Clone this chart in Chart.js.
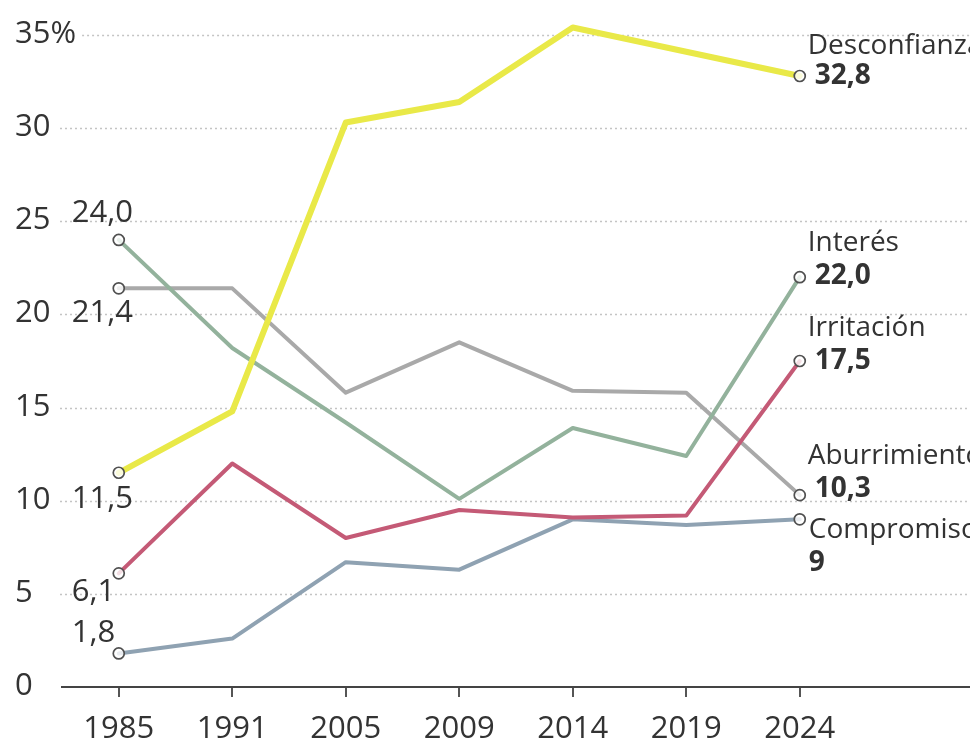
<!DOCTYPE html>
<html>
<head>
<meta charset="utf-8">
<script src="https://cdn.jsdelivr.net/npm/chart.js@4.4.1/dist/chart.umd.min.js"></script>
<style>
  html, body { margin: 0; padding: 0; background: #ffffff; }
  #wrap { width: 970px; height: 749px; position: relative; }
</style>
</head>
<body>
<div id="wrap"><canvas id="c" width="970" height="749"></canvas></div>
<script>
// ---- data ----
const years = ['1985', '1991', '2005', '2009', '2014', '2019', '2024'];
const seriesNames = ['Desconfianza', 'Interés', 'Irritación', 'Aburrimiento', 'Compromiso'];
const desconfianza = [11.5, 14.8, 30.3, 31.4, 35.4, 34.1, 32.8];
const interes      = [24.0, 18.2, 14.2, 10.1, 13.9, 12.4, 22.0];
const irritacion   = [6.1, 12.0, 8.0, 9.5, 9.1, 9.2, 17.5];
const aburrimiento = [21.4, 21.4, 15.8, 18.5, 15.9, 15.8, 10.3];
const compromiso   = [1.8, 2.6, 6.7, 6.3, 9.0, 8.7, 9];
const yTicks = [0, 5, 10, 15, 20, 25, 30, 35];
const lastDecimals = [1, 1, 1, 1, 0];

// ---- styles ----
const colors = ['#e9e948', '#93b29c', '#c45a76', '#a9a9a9', '#8fa2b2'];
const widths = [6, 4, 4, 4, 4];
const FONT = '"Open Sans", "Noto Sans", sans-serif';
const TXT = '#333333';
// label offsets (px) relative to first / last point
const firstDy = [26, -27, 19, 25, -20];
const lastNameDy = [-30, -34, -33, -39, 11];
const lastNameDx = [8, 8, 8, 8, 9];
const lastValDy = [0, -1, 0, -6, 44];
const lastValDx = [15, 15, 15, 15, 9];

const allSeries = [desconfianza, interes, irritacion, aburrimiento, compromiso];
const labels = years.concat(['']);
const fmt = (v, d) => v.toFixed(d).replace('.', ',');
const yLabel = v => (v === 35 ? '35%' : String(v));

const datasets = allSeries.map((arr, i) => ({
  label: seriesNames[i],
  data: arr,
  borderColor: colors[i],
  borderWidth: widths[i],
  tension: 0,
  fill: false,
  clip: false,
  pointRadius: ctx => (ctx.dataIndex === 0 || ctx.dataIndex === arr.length - 1) ? 5.5 : 0,
  pointHoverRadius: 0,
  pointBackgroundColor: 'rgba(255,255,255,0.8)',
  pointBorderColor: '#505050',
  pointBorderWidth: 1.7,
  borderJoinStyle: 'round',
  borderCapStyle: 'round'
}));

const gridPlugin = {
  id: 'dotgrid',
  beforeDatasetsDraw(chart) {
    const y = chart.scales.y, ctx = chart.ctx, area = chart.chartArea;
    ctx.save();
    ctx.font = '31px ' + FONT;
    ctx.fillStyle = TXT;
    ctx.textAlign = 'left';
    ctx.textBaseline = 'middle';
    yTicks.forEach(v => {
      const py = Math.round(y.getPixelForValue(v)) + 0.5;
      const lab = yLabel(v);
      const w = ctx.measureText(lab).width;
      ctx.fillText(lab, 15, py - 1);
      if (v === 0) return;
      const x0 = 15 + w + 6;
      ctx.save();
      ctx.strokeStyle = '#c4c4c4';
      ctx.lineWidth = 1.3;
      ctx.setLineDash([2, 3]);
      ctx.beginPath();
      ctx.moveTo(Math.max(x0, area.left - 2), py);
      ctx.lineTo(chart.width, py);
      ctx.stroke();
      ctx.restore();
    });
    ctx.restore();
  }
};

const labelPlugin = {
  id: 'endlabels',
  afterDatasetsDraw(chart) {
    const ctx = chart.ctx, xs = chart.scales.x, ys = chart.scales.y;
    ctx.save();
    ctx.fillStyle = TXT;
    ctx.textBaseline = 'middle';
    ctx.textAlign = 'left';
    allSeries.forEach((arr, i) => {
      const n = arr.length - 1;
      const x0 = xs.getPixelForValue(0), y0 = ys.getPixelForValue(arr[0]);
      ctx.font = '31px ' + FONT;
      ctx.fillText(fmt(arr[0], 1), x0 - 47, y0 + firstDy[i]);
      const x1 = xs.getPixelForValue(n), y1 = ys.getPixelForValue(arr[n]);
      ctx.font = '28px ' + FONT;
      ctx.fillText(seriesNames[i], x1 + lastNameDx[i], y1 + lastNameDy[i]);
      ctx.font = 'bold 28px ' + FONT;
      ctx.fillText(fmt(arr[n], lastDecimals[i]), x1 + lastValDx[i], y1 + lastValDy[i]);
    });
    ctx.restore();
  }
};

new Chart(document.getElementById('c'), {
  type: 'line',
  data: { labels: labels, datasets: datasets },
  options: {
    responsive: false,
    animation: false,
    layout: { autoPadding: false, padding: { top: 35, left: 15, right: 0, bottom: 0 } },
    plugins: { legend: { display: false }, tooltip: { enabled: false } },
    scales: {
      x: {
        type: 'category',
        offset: true,
        border: { display: true, color: '#444444', width: 2 },
        grid: {
          display: true,
          offset: false,
          drawOnChartArea: false,
          drawTicks: true,
          tickLength: 10,
          lineWidth: 2,
          color: ctx => (ctx.index < years.length ? '#555555' : 'rgba(0,0,0,0)'),
          tickColor: ctx => (ctx.index < years.length ? '#555555' : 'rgba(0,0,0,0)')
        },
        ticks: {
          font: { family: FONT, size: 31 },
          color: TXT,
          padding: 14,
          maxRotation: 0,
          autoSkip: false
        },
        afterFit: s => { s.height = 62; s.paddingLeft = 0; s.paddingRight = 0; }
      },
      y: {
        min: 0,
        max: 35,
        border: { display: false },
        grid: { display: false, drawTicks: false },
        afterBuildTicks: s => { s.ticks = yTicks.map(v => ({ value: v })); },
        ticks: { display: false },
        afterFit: s => { s.width = 47; s.paddingTop = 0; s.paddingBottom = 0; }
      }
    }
  },
  plugins: [gridPlugin, labelPlugin]
});
</script>
</body>
</html>
